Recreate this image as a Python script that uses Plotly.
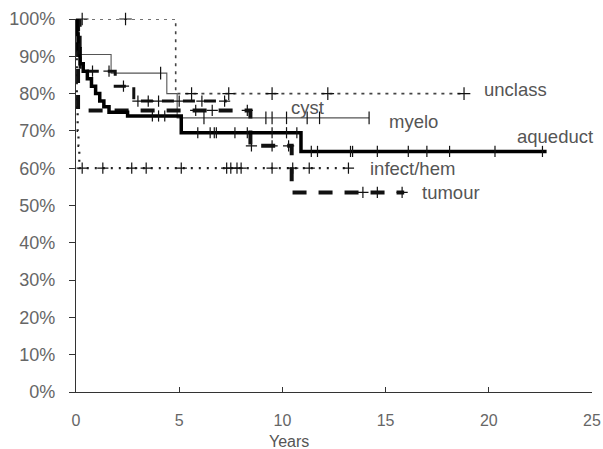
import numpy as np
import plotly.graph_objects as go

# ---------------- data (survival %, years) ----------------
aqueduct_t = [0, 0.05, 0.1, 0.2, 0.35, 0.55, 0.75, 0.95, 1.15, 1.35, 1.6, 2.5, 5.1, 10.9, 22.8]
aqueduct_s = [100, 96, 92, 88, 86, 84, 82, 80, 78, 76.5, 75, 74, 69.5, 64.5, 64.5]
aqueduct_c = [0.15, 3.7, 4.0, 4.3, 5.9, 6.5, 6.7, 6.8, 7.7, 8.3, 9.5, 10.2, 10.7,
              11.4, 11.7, 13.3, 13.4, 14.6, 16.1, 17.0, 18.1, 20.3, 22.6]

myelo_t = [0, 0.15, 1.7, 4.4, 4.9, 14.2]
myelo_s = [100, 90.5, 85.5, 80, 73.5, 73.5]
myelo_c = [4.1, 6.2, 9.2, 9.5, 10.2, 11.2, 11.8, 14.2]

unclass_t = [0, 4.83, 18.8]
unclass_s = [100, 80, 80]
unclass_c = [0.3, 2.4, 5.6, 7.4, 9.5, 12.2, 18.8]

infect_t = [0, 0.04, 0.08, 0.12, 0.16, 13.2]
infect_s = [100, 75, 70, 66, 60, 60]
infect_c = [0.3, 1.3, 2.7, 3.4, 5.1, 7.3, 7.5, 7.8, 8.0, 9.5, 10.5, 11.3, 13.2]

cyst_t = [0, 0.2, 1.9, 2.8, 7.3]
cyst_s = [100, 86, 82, 78, 78]
cyst_c = [0.8, 1.6, 2.3, 3.0, 3.5, 4.0, 5.0, 6.1, 7.2]

tumour_t = [0, 0.1, 8.2, 8.45, 10.45, 15.9]
tumour_s = [100, 75.5, 75.5, 66, 53.5, 53.5]
tumour_c = [5.8, 6.6, 8.3, 8.5, 9.5, 10.3, 13.9, 14.6, 15.8]

x_ticks = [0, 5, 10, 15, 20, 25]
y_ticks = [0, 10, 20, 30, 40, 50, 60, 70, 80, 90, 100]
y_tick_labels = ["0%", "10%", "20%", "30%", "40%", "50%", "60%", "70%", "80%", "90%", "100%"]

labels = ["unclass", "cyst", "myelo", "aqueduct", "infect/hem", "tumour"]
label_x = [19.67, 10.3, 15.07, 21.27, 14.15, 16.67]
label_y = [81.0, 76.4, 72.4, 68.6, 60.0, 53.6]


def surv_at(ts, ss, c):
    ts = np.asarray(ts)
    ss = np.asarray(ss)
    idx = np.searchsorted(ts, np.asarray(c), side="right") - 1
    return ss[idx]


fig = go.Figure()

series = [
    (unclass_t, unclass_s, unclass_c, dict(color="#444", width=1.6, dash="3px,5px"), "cross-thin", 9),
    (infect_t, infect_s, infect_c, dict(color="#222", width=2.2, dash="2px,6px"), "cross-thin", 8),
    (myelo_t, myelo_s, myelo_c, dict(color="#555", width=1.1), "line-ns", 9),
    (cyst_t, cyst_s, cyst_c, dict(color="#111", width=3, dash="12px,9px"), "cross-thin", 8),
    (tumour_t, tumour_s, tumour_c, dict(color="#111", width=4, dash="14px,12px"), "cross-thin", 8),
    (aqueduct_t, aqueduct_s, aqueduct_c, dict(color="#000", width=3.5), "line-ns", 8),
]

for ts, ss, cs, ln, sym, sz in series:
    fig.add_trace(go.Scatter(x=ts, y=ss, mode="lines", line=dict(shape="hv", **ln),
                             hoverinfo="skip", showlegend=False, cliponaxis=False))
    fig.add_trace(go.Scatter(x=cs, y=surv_at(ts, ss, cs), mode="markers",
                             marker=dict(symbol=sym, size=sz, line=dict(color="#111", width=1.2)),
                             hoverinfo="skip", showlegend=False, cliponaxis=False))

for lab, lx, ly in zip(labels, label_x, label_y):
    fig.add_annotation(x=lx, y=ly, text=lab, showarrow=False, xanchor="left", yanchor="middle",
                       font=dict(family="Liberation Sans, Arial", size=18.5, color="#555"))

fig.add_annotation(x=10.3, y=0, yref="paper", yshift=-49, text="Years", showarrow=False,
                   xanchor="center", yanchor="middle",
                   font=dict(family="Liberation Sans, Arial", size=16, color="#555"))

fig.update_layout(
    width=603, height=449,
    margin=dict(l=76, r=11, t=19, b=57),
    paper_bgcolor="white", plot_bgcolor="white",
    font=dict(family="Liberation Sans, Arial", color="#555"),
)
fig.update_xaxes(range=[0, 25], tickvals=x_ticks, ticks="inside", ticklen=5, tickcolor="#333",
                 showline=True, linecolor="#333", linewidth=1.2, showgrid=False, zeroline=False,
                 tickfont=dict(size=16, color="#666"), ticklabelstandoff=14, automargin=False)
fig.update_yaxes(range=[0, 100], tickvals=y_ticks, ticktext=y_tick_labels, ticks="outside", ticklen=6,
                 tickcolor="#333", showline=True, linecolor="#333", linewidth=1.2, showgrid=False,
                 zeroline=False, tickfont=dict(size=18, color="#666"), ticklabelstandoff=10,
                 automargin=False)

# remove the default page margin so the figure fills the window exactly
fig.write_html("out.html", config={"displayModeBar": False},
               post_script="document.body.style.margin='0';document.body.style.overflow='hidden';")
